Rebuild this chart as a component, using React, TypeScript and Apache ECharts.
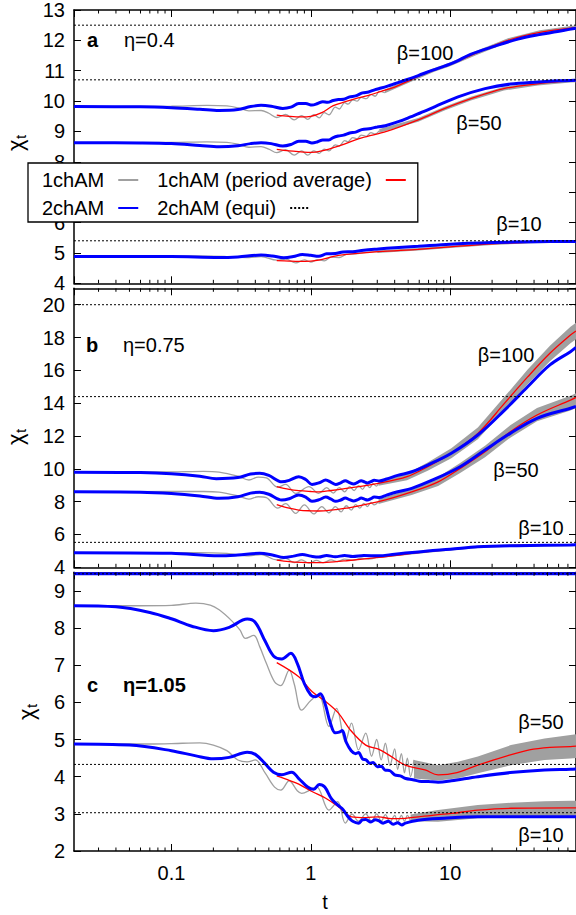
import React, { useEffect, useRef } from "react";
import * as echarts from "echarts";

type P = [number, number];
type B = [number, number, number];

const FONT = "'Liberation Sans', Arial, Helvetica, sans-serif";
const GRAY = "#a0a0a0";
const RED = "#ff0000";
const BLUE = "#0000ff";

// ---------- axes ----------
const xMin = 0.02;
const xMax = 80;
const minorTicks = [0.03, 0.04, 0.05, 0.06, 0.07, 0.08, 0.09, 0.2, 0.3, 0.4, 0.5, 0.6, 0.7, 0.8, 0.9, 2, 3, 4, 5, 6, 7, 8, 9, 20, 30, 40, 50, 60, 70];
const yMins = [4, 4, 2];
const yMaxs = [13, 21, 9.5];
const yIntervals = [1, 2, 1];
const yShowMax = [true, false, false];

// ---------- equilibrium (dotted) levels ----------
const equiA = [12.5, 10.7, 5.4];
const equiB = [20.0, 14.4, 5.52];
const equiC = [4.33, 3.03];
const edgeC = 9.46; // blue + dotted line at the top edge of panel c

// ---------- panel a (eta = 0.4) ----------
const a100Blue: P[] = [[0.02, 9.82], [0.06, 9.81], [0.1, 9.78], [0.16, 9.73], [0.22, 9.69], [0.3, 9.72], [0.37, 9.82], [0.44, 9.86], [0.52, 9.83], [0.63, 9.76], [0.72, 9.8], [0.82, 9.92], [0.92, 9.92], [1.02, 9.87], [1.12, 9.92], [1.22, 9.98], [1.32, 9.96], [1.45, 10.02], [1.58, 10.05], [1.72, 10.06], [1.9, 10.14], [2.1, 10.17], [2.35, 10.27], [2.6, 10.3], [2.9, 10.38], [3.2, 10.43], [3.6, 10.5], [4.0, 10.57], [5.0, 10.72], [5.9, 10.84], [7.5, 11.02], [9.2, 11.16], [11, 11.3], [14, 11.54], [21, 11.81], [30.6, 12.04], [42.6, 12.18], [59, 12.29], [73, 12.37], [80, 12.4]];
const a100Red: P[] = [[0.57, 9.54], [0.7, 9.5], [0.85, 9.48], [1.0, 9.5], [1.2, 9.62], [1.45, 9.85], [1.77, 9.98], [2.1, 10.08], [2.6, 10.19], [3.2, 10.32], [4.0, 10.46], [5.0, 10.66], [6.2, 10.86], [7.7, 11.03], [10, 11.21], [15.5, 11.59], [26, 12.0], [44, 12.26], [73, 12.4], [80, 12.42]];
const a100Gray: P[] = [[0.02, 9.82], [0.1, 9.83], [0.18, 9.86], [0.25, 9.84], [0.3, 9.78], [0.36, 9.68], [0.44, 9.69], [0.5, 9.6], [0.57, 9.46], [0.66, 9.56], [0.76, 9.38], [0.86, 9.52], [0.95, 9.4], [1.05, 9.55], [1.15, 9.45], [1.25, 9.62], [1.35, 9.55], [1.5, 9.8], [1.6, 9.74], [1.75, 9.95], [1.85, 9.9], [2.0, 10.04], [2.15, 10.0], [2.3, 10.12], [2.5, 10.08], [2.7, 10.22], [2.9, 10.16], [3.1, 10.32], [3.4, 10.28]];
const a100Band: B[] = [[3.4, 10.26, 10.38], [5, 10.6, 10.72], [7.7, 10.97, 11.09], [10, 11.15, 11.27], [15.5, 11.52, 11.66], [26, 11.93, 12.07], [44, 12.19, 12.33], [73, 12.33, 12.47], [80, 12.35, 12.49]];

const a50Blue: P[] = [[0.02, 8.63], [0.06, 8.62], [0.1, 8.6], [0.16, 8.54], [0.22, 8.5], [0.3, 8.53], [0.37, 8.6], [0.44, 8.63], [0.52, 8.6], [0.63, 8.52], [0.72, 8.57], [0.82, 8.68], [0.92, 8.68], [1.02, 8.62], [1.12, 8.66], [1.22, 8.72], [1.35, 8.72], [1.45, 8.8], [1.58, 8.85], [1.72, 8.88], [1.9, 8.95], [2.1, 8.98], [2.32, 9.06], [2.7, 9.1], [3.0, 9.15], [3.43, 9.19], [4.3, 9.33], [5.27, 9.49], [6.5, 9.66], [7.8, 9.82], [11.4, 10.14], [17.8, 10.41], [27, 10.56], [43, 10.63], [60, 10.67], [80, 10.69]];
const a50Red: P[] = [[0.57, 8.41], [0.7, 8.36], [0.85, 8.33], [1.0, 8.31], [1.2, 8.36], [1.58, 8.52], [2.32, 8.79], [3.5, 9.0], [5.9, 9.38], [9.2, 9.76], [14.1, 10.08], [24.3, 10.41], [42.6, 10.57], [73, 10.67], [80, 10.68]];
const a50Gray: P[] = [[0.02, 8.63], [0.1, 8.64], [0.18, 8.66], [0.25, 8.64], [0.3, 8.58], [0.36, 8.48], [0.44, 8.5], [0.5, 8.42], [0.57, 8.3], [0.66, 8.4], [0.76, 8.22], [0.86, 8.36], [0.95, 8.22], [1.05, 8.36], [1.15, 8.28], [1.25, 8.42], [1.35, 8.36], [1.5, 8.56], [1.6, 8.52], [1.75, 8.7], [1.85, 8.66], [2.0, 8.8], [2.15, 8.76], [2.3, 8.88], [2.5, 8.84], [2.7, 8.96], [2.9, 8.92], [3.1, 9.02]];
const a50Band: B[] = [[3.1, 8.96, 9.08], [5.9, 9.32, 9.44], [9.2, 9.7, 9.82], [14.1, 10.02, 10.14], [24.3, 10.35, 10.47], [42.6, 10.51, 10.63], [73, 10.61, 10.73], [80, 10.62, 10.74]];

const a10Blue: P[] = [[0.02, 4.88], [0.1, 4.88], [0.22, 4.85], [0.3, 4.87], [0.44, 4.93], [0.53, 4.9], [0.64, 4.84], [0.75, 4.88], [0.87, 4.95], [1.0, 4.92], [1.14, 4.89], [1.3, 4.97], [1.5, 4.98], [1.7, 5.03], [2.0, 5.04], [2.4, 5.09], [3.06, 5.13], [4.0, 5.17], [5.9, 5.22], [10, 5.29], [20, 5.34], [40, 5.37], [80, 5.38]];
const a10Red: P[] = [[0.57, 4.75], [0.7, 4.73], [0.82, 4.72], [1.0, 4.73], [1.14, 4.76], [1.58, 4.92], [3.06, 5.04], [5.9, 5.12], [10, 5.2], [20, 5.3], [40, 5.36], [80, 5.38]];
const a10Gray: P[] = [[0.02, 4.88], [0.15, 4.9], [0.25, 4.88], [0.36, 4.85], [0.44, 4.88], [0.57, 4.76], [0.66, 4.8], [0.78, 4.67], [0.9, 4.77], [1.0, 4.7], [1.12, 4.78], [1.25, 4.74], [1.4, 4.86], [1.6, 4.85], [1.8, 4.95], [2.1, 4.97], [2.5, 5.02], [3.0, 5.04]];
const a10Band: B[] = [[3.0, 5.0, 5.08], [5.9, 5.08, 5.16], [10, 5.16, 5.24], [20, 5.26, 5.34], [40, 5.32, 5.4], [80, 5.34, 5.42]];

// ---------- panel b (eta = 0.75) ----------
const b100Blue: P[] = [[0.02, 9.79], [0.06, 9.77], [0.1, 9.7], [0.16, 9.55], [0.21, 9.4], [0.3, 9.47], [0.37, 9.68], [0.43, 9.73], [0.5, 9.6], [0.62, 9.21], [0.7, 9.3], [0.82, 9.52], [0.92, 9.35], [1.02, 9.05], [1.15, 9.15], [1.28, 9.32], [1.4, 9.18], [1.51, 9.05], [1.64, 9.15], [1.77, 9.28], [1.9, 9.16], [2.03, 9.08], [2.17, 9.18], [2.3, 9.28], [2.43, 9.2], [2.55, 9.14], [2.7, 9.22], [2.85, 9.3], [3.1, 9.26], [3.5, 9.38], [4.2, 9.6], [5.3, 9.82], [6.9, 10.23], [10.2, 10.95], [15.8, 12.06], [24.6, 13.58], [36, 15.0], [52, 16.33], [73, 17.14], [80, 17.4]];
const b100Red: P[] = [[0.57, 8.92], [0.7, 8.75], [0.82, 8.67], [1.0, 8.62], [1.14, 8.6], [1.4, 8.68], [1.8, 8.81], [3.06, 9.12], [4.9, 9.52], [6.9, 10.13], [10.2, 10.95], [15.8, 12.16], [24.6, 14.0], [36, 15.6], [52, 17.04], [73, 18.15], [80, 18.4]];
const b100Gray: P[] = [[0.02, 9.8], [0.1, 9.82], [0.17, 9.85], [0.22, 9.8], [0.3, 9.55], [0.36, 9.32], [0.42, 9.5], [0.48, 9.45], [0.58, 8.88], [0.66, 9.05], [0.78, 8.5], [0.97, 8.91], [1.14, 8.5], [1.3, 8.85], [1.45, 8.52], [1.6, 8.85], [1.75, 8.6], [1.9, 8.92], [2.05, 8.68], [2.2, 8.98], [2.35, 8.75], [2.5, 9.04], [2.65, 8.85], [2.8, 9.1], [2.95, 8.95], [3.1, 9.18]];
const b100Band: B[] = [[3.06, 8.97, 9.27], [4.9, 9.3, 9.72], [6.9, 9.88, 10.38], [10.2, 10.65, 11.25], [15.8, 11.8, 12.52], [24.6, 13.6, 14.4], [36, 15.15, 16.05], [52, 16.55, 17.5], [73, 17.65, 18.65], [80, 17.9, 18.9]];

const b50Blue: P[] = [[0.02, 8.6], [0.06, 8.58], [0.1, 8.5], [0.16, 8.35], [0.22, 8.2], [0.3, 8.3], [0.37, 8.52], [0.43, 8.57], [0.5, 8.45], [0.62, 8.1], [0.7, 8.18], [0.82, 8.4], [0.92, 8.28], [1.02, 8.02], [1.15, 8.12], [1.28, 8.28], [1.4, 8.15], [1.51, 8.02], [1.64, 8.1], [1.77, 8.22], [1.9, 8.12], [2.03, 8.04], [2.17, 8.12], [2.3, 8.22], [2.43, 8.15], [2.55, 8.1], [2.7, 8.18], [2.85, 8.28], [3.1, 8.25], [3.5, 8.4], [4.2, 8.6], [5.3, 8.81], [7.5, 9.32], [11.8, 10.13], [17.8, 11.15], [27, 12.16], [42, 13.08], [73, 13.69], [80, 13.8]];
const b50Red: P[] = [[0.57, 7.82], [0.7, 7.6], [0.82, 7.49], [1.0, 7.44], [1.14, 7.43], [1.5, 7.52], [1.8, 7.6], [3.06, 8.0], [5.3, 8.6], [8.2, 9.21], [11.8, 10.03], [17.8, 11.04], [27, 12.26], [42, 13.28], [73, 14.19], [80, 14.35]];
const b50Gray: P[] = [[0.02, 8.6], [0.1, 8.62], [0.17, 8.62], [0.22, 8.58], [0.3, 8.35], [0.36, 8.15], [0.42, 8.3], [0.48, 8.25], [0.58, 7.6], [0.66, 7.88], [0.78, 7.29], [0.9, 7.8], [1.05, 7.25], [1.2, 7.7], [1.35, 7.32], [1.5, 7.7], [1.65, 7.38], [1.8, 7.75], [1.95, 7.48], [2.1, 7.82], [2.25, 7.6], [2.4, 7.9], [2.55, 7.7], [2.7, 7.96], [2.85, 7.8], [3.06, 8.0]];
const b50Band: B[] = [[3.06, 7.85, 8.15], [5.3, 8.4, 8.8], [8.2, 8.95, 9.5], [11.8, 9.75, 10.35], [17.8, 10.7, 11.4], [27, 11.9, 12.65], [42, 12.9, 13.7], [73, 13.55, 14.45], [80, 13.7, 14.6]];

const b10Blue: P[] = [[0.02, 4.89], [0.1, 4.85], [0.22, 4.7], [0.3, 4.75], [0.43, 4.85], [0.53, 4.75], [0.64, 4.6], [0.75, 4.68], [0.87, 4.78], [1.0, 4.68], [1.14, 4.62], [1.3, 4.72], [1.5, 4.64], [1.75, 4.72], [2.0, 4.66], [2.4, 4.72], [3.06, 4.7], [4.0, 4.8], [6.9, 5.0], [10, 5.1], [15.8, 5.25], [30, 5.32], [73, 5.36], [80, 5.37]];
const b10Red: P[] = [[0.57, 4.44], [0.7, 4.35], [0.85, 4.3], [1.0, 4.28], [1.3, 4.3], [1.8, 4.4], [3.06, 4.6], [6.9, 4.95], [15.8, 5.25], [30, 5.33], [80, 5.37]];
const b10Gray: P[] = [[0.02, 4.89], [0.15, 4.9], [0.25, 4.85], [0.36, 4.7], [0.44, 4.78], [0.57, 4.45], [0.66, 4.55], [0.76, 4.28], [0.86, 4.45], [0.97, 4.25], [1.1, 4.42], [1.22, 4.28], [1.4, 4.45], [1.55, 4.35], [1.75, 4.5], [2.0, 4.42], [2.3, 4.55], [2.6, 4.5], [3.0, 4.62]];
const b10Band: B[] = [[3.0, 4.55, 4.68], [6.9, 4.88, 5.02], [15.8, 5.18, 5.32], [30, 5.26, 5.4], [80, 5.3, 5.44]];

// ---------- panel c (eta = 1.05) ----------
const c50Blue: P[] = [[0.02, 8.6], [0.04, 8.57], [0.07, 8.42], [0.1, 8.25], [0.14, 8.05], [0.2, 7.93], [0.26, 8.02], [0.35, 8.24], [0.4, 8.15], [0.47, 7.65], [0.54, 7.25], [0.62, 7.17], [0.72, 7.32], [0.8, 7.05], [0.9, 6.5], [1.0, 6.2], [1.08, 6.15], [1.17, 6.23], [1.27, 5.95], [1.38, 5.45], [1.5, 5.18], [1.6, 5.2], [1.68, 5.24], [1.8, 4.92], [1.95, 4.7], [2.1, 4.62], [2.2, 4.65], [2.35, 4.48], [2.5, 4.45], [2.65, 4.36], [2.8, 4.38], [3.0, 4.27], [3.2, 4.28], [3.4, 4.18], [3.7, 4.16], [4.0, 4.05], [4.4, 4.02], [4.8, 3.95], [5.4, 3.92], [6.0, 3.88], [7, 3.87], [8.2, 3.85], [10.2, 3.89], [15.8, 4.0], [27, 4.11], [47.6, 4.18], [73, 4.2], [80, 4.21]];
const c50Red: P[] = [[0.57, 7.07], [0.82, 6.69], [1.02, 6.29], [1.28, 6.02], [1.58, 5.71], [1.92, 5.26], [2.48, 4.85], [3.06, 4.74], [3.79, 4.54], [4.77, 4.31], [6.6, 4.18], [8.2, 4.05], [11.2, 4.11], [15.8, 4.31], [24.6, 4.54], [37, 4.72], [52, 4.79], [73, 4.81], [80, 4.82]];
const c50Gray: P[] = [[0.02, 8.6], [0.06, 8.6], [0.1, 8.61], [0.15, 8.67], [0.19, 8.62], [0.22, 8.49], [0.27, 8.2], [0.31, 7.95], [0.34, 7.72], [0.39, 7.8], [0.43, 7.5], [0.48, 7.05], [0.55, 6.55], [0.61, 6.45], [0.7, 6.87], [0.76, 6.5], [0.86, 5.79], [1.0, 6.05], [1.14, 6.2], [1.35, 5.35], [1.53, 5.84], [1.77, 4.94], [1.96, 5.44], [2.2, 4.72], [2.48, 5.17], [2.73, 4.55], [2.97, 5.0], [3.2, 4.45], [3.43, 4.9], [3.7, 4.3], [4.0, 4.75], [4.2, 4.2], [4.47, 4.62], [4.7, 4.1], [4.93, 4.5], [5.2, 4.0], [5.5, 4.45]];
const c50Band: B[] = [[5.5, 3.95, 4.45], [8.2, 3.9, 4.31], [11.4, 3.96, 4.4], [15.8, 4.09, 4.54], [27.3, 4.31, 4.85], [47.6, 4.45, 5.03], [73, 4.49, 5.12], [80, 4.5, 5.14]];

const c10Blue: P[] = [[0.02, 4.88], [0.05, 4.85], [0.1, 4.7], [0.15, 4.56], [0.2, 4.48], [0.26, 4.52], [0.35, 4.66], [0.4, 4.6], [0.47, 4.35], [0.54, 4.12], [0.62, 4.05], [0.73, 4.12], [0.82, 3.95], [0.95, 3.72], [1.05, 3.66], [1.15, 3.79], [1.26, 3.72], [1.41, 3.4], [1.58, 3.22], [1.7, 3.12], [1.87, 2.9], [2.0, 2.8], [2.2, 2.75], [2.35, 2.84], [2.48, 2.85], [2.7, 2.78], [2.9, 2.84], [3.06, 2.82], [3.3, 2.75], [3.6, 2.8], [3.9, 2.72], [4.2, 2.76], [4.5, 2.7], [4.77, 2.75], [5.9, 2.83], [9, 2.88], [15.8, 2.92], [30, 2.92], [80, 2.92]];
const c10Red: P[] = [[0.57, 4.02], [0.7, 3.9], [0.82, 3.8], [1.02, 3.6], [1.28, 3.42], [1.58, 3.19], [1.96, 2.92], [2.48, 2.9], [3.06, 2.92], [3.79, 2.87], [4.77, 2.88], [5.9, 2.92], [10.2, 3.01], [15.8, 3.1], [27.3, 3.15], [73, 3.16], [80, 3.16]];
const c10Gray: P[] = [[0.02, 4.88], [0.07, 4.88], [0.12, 4.9], [0.16, 4.91], [0.2, 4.85], [0.25, 4.7], [0.3, 4.45], [0.35, 4.4], [0.4, 4.45], [0.47, 4.1], [0.55, 3.72], [0.61, 3.64], [0.7, 3.89], [0.8, 3.62], [0.86, 3.55], [1.0, 3.65], [1.1, 3.73], [1.35, 3.1], [1.56, 3.33], [1.77, 2.75], [1.98, 2.99], [2.2, 2.8], [2.48, 3.0], [2.73, 2.8], [2.97, 3.0], [3.2, 2.8], [3.43, 2.98], [3.7, 2.78], [4.0, 2.96], [4.2, 2.78], [4.47, 2.96], [4.7, 2.8], [4.93, 2.96], [5.2, 2.8]];
const c10Band: B[] = [[5.2, 2.8, 2.98], [8.2, 2.79, 3.1], [15.8, 2.88, 3.24], [27.3, 2.9, 3.3], [47.6, 2.92, 3.34], [73, 2.92, 3.35], [80, 2.92, 3.35]];

// ---------- layout (pixels) ----------
const gridTops = [4.7, 288.3, 572.3];
const gridHeights = [278.6, 279, 278.7];
const GRID_LEFT = 74;
const GRID_WIDTH = 504;

function lineSeries(name: string, data: P[], gi: number, color: string, width: number, smooth = 0.35, dash: any = "solid") {
  return {
    type: "line",
    name,
    data,
    xAxisIndex: gi * 2,
    yAxisIndex: gi * 2,
    symbol: "none",
    showSymbol: false,
    smooth,
    silent: true,
    clip: true,
    lineStyle: { color, width, type: dash },
    itemStyle: { color },
    emphasis: { disabled: true },
  };
}

function bandSeries(data: B[], gi: number) {
  return {
    type: "custom",
    name: "band",
    xAxisIndex: gi * 2,
    yAxisIndex: gi * 2,
    data,
    silent: true,
    encode: { x: 0, y: [1, 2] },
    renderItem: (params: any, api: any) => {
      if (params.dataIndex !== 0) return null;
      const up = data.map((d) => api.coord([d[0], d[2]]));
      const lo = data.map((d) => api.coord([d[0], d[1]])).reverse();
      return { type: "polygon", shape: { points: up.concat(lo) }, style: { fill: GRAY } };
    },
  };
}

function minorTickSeries(gi: number) {
  return {
    type: "custom",
    name: "minor",
    xAxisIndex: gi * 2,
    yAxisIndex: gi * 2,
    silent: true,
    z: 5,
    data: minorTicks.map((t) => [t, yMins[gi]]),
    encode: { x: 0, y: 1 },
    renderItem: (params: any, api: any) => {
      const x = api.coord([api.value(0), api.value(1)])[0];
      const cs = params.coordSys;
      const yb = cs.y + cs.height;
      const yt = cs.y;
      return {
        type: "group",
        children: [
          { type: "line", shape: { x1: x, y1: yb, x2: x, y2: yb - 3.5 }, style: { stroke: "#000", lineWidth: 1 } },
          { type: "line", shape: { x1: x, y1: yt, x2: x, y2: yt + 3.5 }, style: { stroke: "#000", lineWidth: 1 } },
        ],
      };
    },
  };
}

function flat(v: number): P[] {
  return [[xMin, v], [xMax, v]];
}

function text(t: string, x: number, y: number, opts: any = {}) {
  return {
    type: "text",
    silent: true,
    z: 20,
    style: {
      text: t,
      x,
      y,
      fontSize: opts.fontSize ?? 20,
      fontWeight: opts.bold ? "bold" : "normal",
      fontFamily: FONT,
      fill: "#000",
      align: opts.align ?? "left",
      textAlign: opts.align ?? "left",
      verticalAlign: "middle",
      textVerticalAlign: "middle",
    },
  };
}

function chiLabel(cx: number, cy: number) {
  return {
    type: "group",
    x: cx,
    y: cy,
    rotation: Math.PI / 2,
    silent: true,
    children: [
      { type: "text", style: { text: "χ", x: -10, y: 0, fontSize: 22, fontFamily: FONT, fill: "#000", align: "left", verticalAlign: "middle" } },
      { type: "text", style: { text: "t", x: 2, y: 5, fontSize: 15, fontFamily: FONT, fill: "#000", align: "left", verticalAlign: "middle" } },
    ],
  };
}

export default function App() {
  const ref = useRef<HTMLDivElement>(null);

  useEffect(() => {
    if (!ref.current) return;
    const chart = echarts.init(ref.current, undefined, { renderer: "svg" });

    const grids = [0, 1, 2].map((i) => ({ left: GRID_LEFT, top: gridTops[i], width: GRID_WIDTH, height: gridHeights[i], containLabel: false }));

    const xAxes: any[] = [];
    const yAxes: any[] = [];
    [0, 1, 2].forEach((i) => {
      const common = {
        type: "log",
        logBase: 10,
        min: xMin,
        max: xMax,
        gridIndex: i,
        splitLine: { show: false },
        axisLine: { show: true, lineStyle: { color: "#000", width: 1.5 } },
        axisTick: { show: true, inside: true, length: 7, lineStyle: { color: "#000", width: 1 } },
      };
      xAxes.push({
        ...common,
        position: "bottom",
        axisLabel: {
          show: i === 2,
          showMinLabel: false,
          showMaxLabel: false,
          margin: 12,
          fontSize: 20,
          fontFamily: FONT,
          color: "#000",
        },
        name: i === 2 ? "t" : "",
        nameLocation: "middle",
        nameGap: 41,
        nameTextStyle: { fontSize: 20, fontFamily: FONT, color: "#000" },
      });
      xAxes.push({ ...common, position: "top", axisLabel: { show: false } });

      const yc = {
        type: "value",
        min: yMins[i],
        max: yMaxs[i],
        interval: yIntervals[i],
        gridIndex: i,
        splitLine: { show: false },
        axisLine: { show: true, lineStyle: { color: "#000", width: 1.5 } },
        axisTick: { show: true, inside: true, length: 7, lineStyle: { color: "#000", width: 1 } },
      };
      yAxes.push({
        ...yc,
        position: "left",
        axisLabel: {
          show: true,
          margin: 9,
          fontSize: 20,
          fontFamily: FONT,
          color: "#000",
          showMinLabel: true,
          showMaxLabel: yShowMax[i],
        },
      });
      yAxes.push({ ...yc, position: "right", axisLabel: { show: false } });
    });

    const series: any[] = [];
    // grays first (oscillating lines then dense bands); first "1chAM" series defines the legend icon
    series.push(
      lineSeries("1chAM", a100Gray, 0, GRAY, 1.3),
      lineSeries("1chAM", a50Gray, 0, GRAY, 1.3),
      lineSeries("1chAM", a10Gray, 0, GRAY, 1.3),
      lineSeries("1chAM", b100Gray, 1, GRAY, 1.3),
      lineSeries("1chAM", b50Gray, 1, GRAY, 1.3),
      lineSeries("1chAM", b10Gray, 1, GRAY, 1.3),
      lineSeries("1chAM", c50Gray, 2, GRAY, 1.3),
      lineSeries("1chAM", c10Gray, 2, GRAY, 1.3)
    );
    series.push(
      bandSeries(a100Band, 0), bandSeries(a50Band, 0), bandSeries(a10Band, 0),
      bandSeries(b100Band, 1), bandSeries(b50Band, 1), bandSeries(b10Band, 1),
      bandSeries(c50Band, 2), bandSeries(c10Band, 2)
    );
    // reds
    series.push(
      lineSeries("1chAM (period average)", a100Red, 0, RED, 1.3),
      lineSeries("1chAM (period average)", a50Red, 0, RED, 1.3),
      lineSeries("1chAM (period average)", a10Red, 0, RED, 1.3),
      lineSeries("1chAM (period average)", b100Red, 1, RED, 1.3),
      lineSeries("1chAM (period average)", b50Red, 1, RED, 1.3),
      lineSeries("1chAM (period average)", b10Red, 1, RED, 1.3),
      lineSeries("1chAM (period average)", c50Red, 2, RED, 1.3),
      lineSeries("1chAM (period average)", c10Red, 2, RED, 1.3)
    );
    // blues
    series.push(
      lineSeries("2chAM", a100Blue, 0, BLUE, 3),
      lineSeries("2chAM", a50Blue, 0, BLUE, 3),
      lineSeries("2chAM", a10Blue, 0, BLUE, 3),
      lineSeries("2chAM", b100Blue, 1, BLUE, 3),
      lineSeries("2chAM", b50Blue, 1, BLUE, 3),
      lineSeries("2chAM", b10Blue, 1, BLUE, 3),
      lineSeries("2chAM", c50Blue, 2, BLUE, 3),
      lineSeries("2chAM", c10Blue, 2, BLUE, 3),
      lineSeries("2chAM", flat(edgeC), 2, BLUE, 3, 0)
    );
    // dotted equilibrium lines
    const dash = [2, 2];
    equiA.forEach((v) => series.push(lineSeries("2chAM (equi)", flat(v), 0, "#000", 1, 0, dash)));
    equiB.forEach((v) => series.push(lineSeries("2chAM (equi)", flat(v), 1, "#000", 1, 0, dash)));
    equiC.forEach((v) => series.push(lineSeries("2chAM (equi)", flat(v), 2, "#000", 1, 0, dash)));
    series.push(lineSeries("2chAM (equi)", flat(edgeC), 2, "#000", 1, 0, dash));
    // minor ticks
    series.push(minorTickSeries(0), minorTickSeries(1), minorTickSeries(2));

    const option: any = {
      animation: false,
      backgroundColor: "#fff",
      grid: grids,
      xAxis: xAxes,
      yAxis: yAxes,
      series,
      legend: {
        data: ["1chAM", "1chAM (period average)", "2chAM", "2chAM (equi)"],
        left: 28,
        top: 163,
        width: 400,
        orient: "horizontal",
        align: "right",
        itemWidth: 20,
        itemHeight: 14,
        itemGap: 8,
        padding: [7, 11, 4, 4],
        backgroundColor: "#fff",
        borderColor: "#000",
        borderWidth: 1.3,
        borderRadius: 0,
        selectedMode: false,
        z: 10,
        itemStyle: { opacity: 0, borderWidth: 0 },
        textStyle: { fontFamily: FONT, fontSize: 20, color: "#000", lineHeight: 20, padding: [0, 9, 0, 10] },
      },
      graphic: [
        text("a", 87, 40, { bold: true }),
        text("η=0.4", 124, 40),
        text("b", 86, 345, { bold: true }),
        text("η=0.75", 123, 345),
        text("c", 87, 685, { bold: true }),
        text("η=1.05", 123, 685, { bold: true }),
        text("β=100", 425, 53, { align: "center" }),
        text("β=50", 479, 123, { align: "center" }),
        text("β=10", 519, 224, { align: "center" }),
        text("β=100", 506, 355, { align: "center" }),
        text("β=50", 516, 470, { align: "center" }),
        text("β=10", 541, 528, { align: "center" }),
        text("β=50", 541, 722, { align: "center" }),
        text("β=10", 541, 835, { align: "center" }),
        chiLabel(15, 141),
        chiLabel(15, 435),
        chiLabel(26, 710),
      ],
    };

    chart.setOption(option);
    return () => chart.dispose();
  }, []);

  return (
    <div
      ref={ref}
      style={{ position: "absolute", left: 0, top: 0, width: 576, height: 915, background: "#fff" }}
    />
  );
}
